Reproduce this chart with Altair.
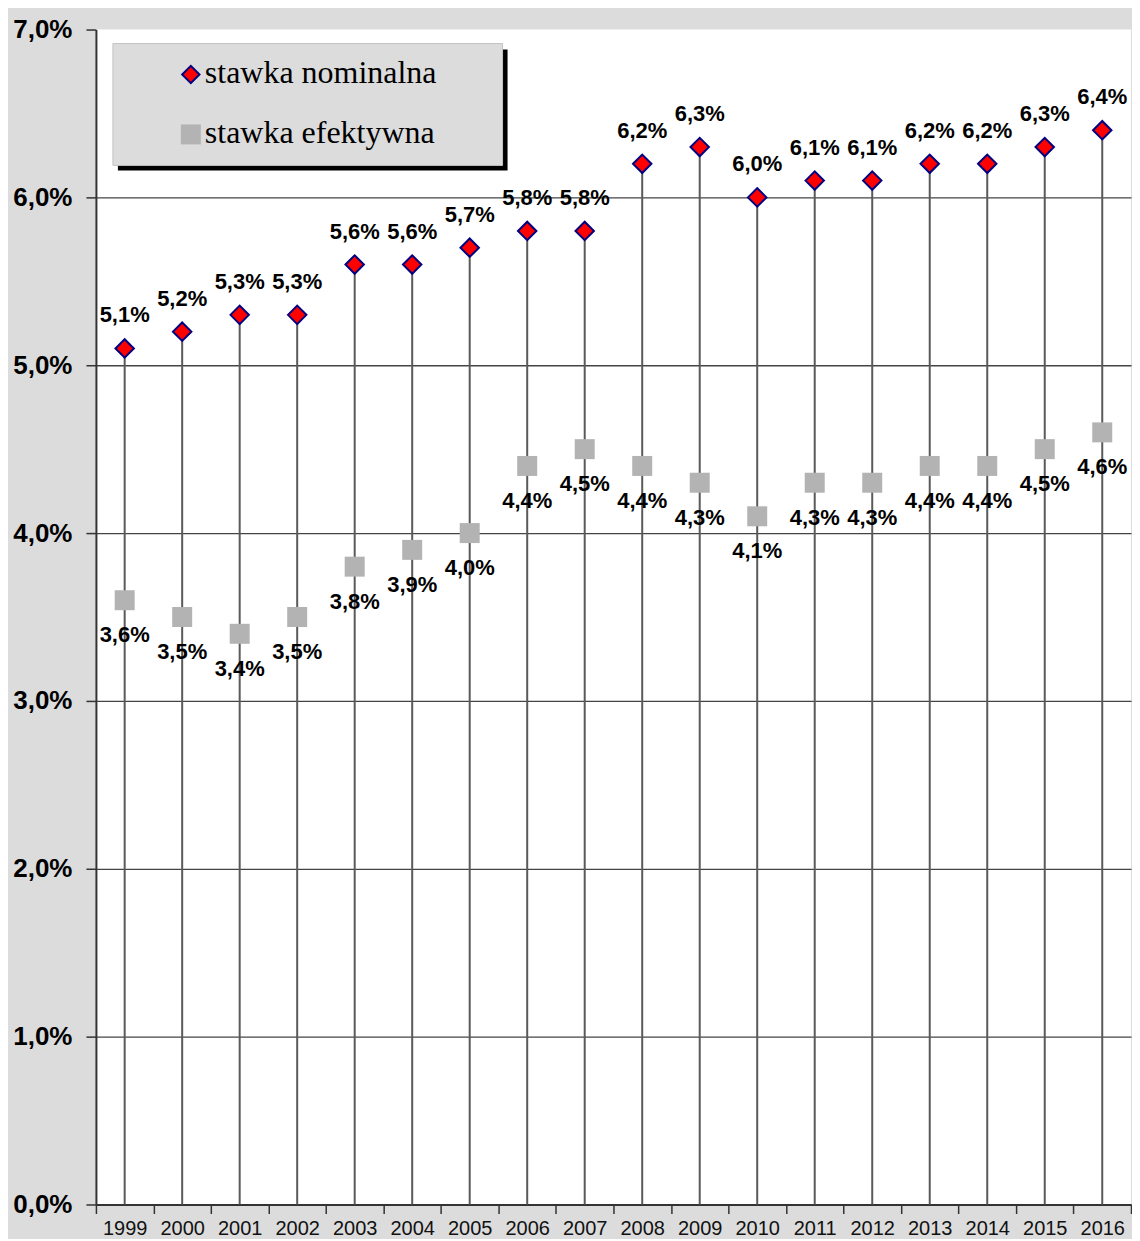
import altair as alt
import pandas as pd

years = [str(y) for y in range(1999, 2017)]
nominal = [5.1, 5.2, 5.3, 5.3, 5.6, 5.6, 5.7, 5.8, 5.8, 6.2, 6.3, 6.0, 6.1, 6.1, 6.2, 6.2, 6.3, 6.4]
effective = [3.6, 3.5, 3.4, 3.5, 3.8, 3.9, 4.0, 4.4, 4.5, 4.4, 4.3, 4.1, 4.3, 4.3, 4.4, 4.4, 4.5, 4.6]
y_ticks = [0, 1, 2, 3, 4, 5, 6, 7]
legend_labels = ["stawka nominalna", "stawka efektywna"]

def fmt(v):
    return f"{v:.1f}".replace(".", ",") + "%"

df = pd.DataFrame({
    "year": years,
    "nom": nominal,
    "eff": effective,
    "nom_lbl": [fmt(v) for v in nominal],
    "eff_lbl": [fmt(v) for v in effective],
    "zero": [0.0] * len(years),
})

W, H = 1036, 1176

x_enc = alt.X("year:N", title=None, sort=years,
              scale=alt.Scale(paddingInner=0, paddingOuter=0),
              axis=alt.Axis(labelAngle=0, labelFont="Liberation Sans", labelFontSize=20,
                            labelColor="#111", labelPadding=5, tickBand="extent",
                            tickSize=9, tickColor="#333", tickWidth=1.5,
                            domainColor="#333", domainWidth=2, grid=False))

y_scale = alt.Scale(domain=[0, 7], nice=False)
y_axis = alt.Axis(values=y_ticks,
                  labelExpr="replace(format(datum.value, '.1f'), '.', ',') + '%'",
                  labelFont="Liberation Sans", labelFontSize=26, labelFontWeight="bold",
                  labelColor="#000", labelPadding=14, tickSize=10, tickColor="#333",
                  tickWidth=1.5, domainColor="#333", domainWidth=2,
                  grid=True, gridColor="#444", gridWidth=1.3,
                  gridOpacity=alt.condition("datum.value >= 7", alt.value(0), alt.value(1)),
                  minExtent=88, maxExtent=88, title=None)

base = alt.Chart(df)

drops = base.mark_rule(color="#5a5a5a", strokeWidth=2).encode(
    x=x_enc,
    y=alt.Y("nom:Q", scale=y_scale, axis=y_axis),
    y2="zero:Q",
)

eff_pts = base.mark_point(shape="square", filled=True, size=400, color="#b3b3b3", opacity=1).encode(
    x="year:N", y="eff:Q")

nom_pts = base.mark_point(shape="diamond", filled=True, size=340, fill="#ff0000",
                          stroke="#000080", strokeWidth=2, opacity=1).encode(
    x="year:N", y="nom:Q")

nom_txt = base.mark_text(font="Liberation Sans", fontSize=22, fontWeight="bold",
                         color="#000", dy=-33).encode(
    x="year:N", y="nom:Q", text="nom_lbl:N")

eff_txt = base.mark_text(font="Liberation Sans", fontSize=22, fontWeight="bold",
                         color="#000", dy=35).encode(
    x="year:N", y="eff:Q", text="eff_lbl:N")

# legend box (decoration)
leg_df = pd.DataFrame({"a": [0]})
shadow = alt.Chart(leg_df).mark_rect(color="#000").encode(
    x=alt.value(22), x2=alt.value(412), y=alt.value(20), y2=alt.value(141))
box = alt.Chart(leg_df).mark_rect(fill="#dcdcdc", stroke="#c4c4c4", strokeWidth=1).encode(
    x=alt.value(17), x2=alt.value(407), y=alt.value(14), y2=alt.value(136))
leg_diamond = alt.Chart(leg_df).mark_point(shape="diamond", filled=True, size=300, fill="#ff0000",
                                           stroke="#000080", strokeWidth=2, opacity=1).encode(
    x=alt.value(95), y=alt.value(45))
leg_square = alt.Chart(leg_df).mark_point(shape="square", filled=True, size=400,
                                          color="#b3b3b3", opacity=1).encode(
    x=alt.value(95), y=alt.value(105))
leg_t1 = alt.Chart(pd.DataFrame({"t": [legend_labels[0]]})).mark_text(
    font="Liberation Serif", fontSize=32, align="left", baseline="middle", color="#000").encode(
    x=alt.value(109), y=alt.value(44), text="t:N")
leg_t2 = alt.Chart(pd.DataFrame({"t": [legend_labels[1]]})).mark_text(
    font="Liberation Serif", fontSize=32, align="left", baseline="middle", color="#000").encode(
    x=alt.value(109), y=alt.value(104), text="t:N")

chart = alt.layer(drops, eff_pts, nom_pts, nom_txt, eff_txt,
                  shadow, box, leg_diamond, leg_square, leg_t1, leg_t2).properties(
    width=W, height=H,
    padding={"left": 0, "top": 8, "right": 0, "bottom": 0},
    background="#dcdcdc",
).configure_view(fill="#ffffff", stroke=None)

chart.save("out.html", embed_options={"renderer": "svg", "actions": False})
